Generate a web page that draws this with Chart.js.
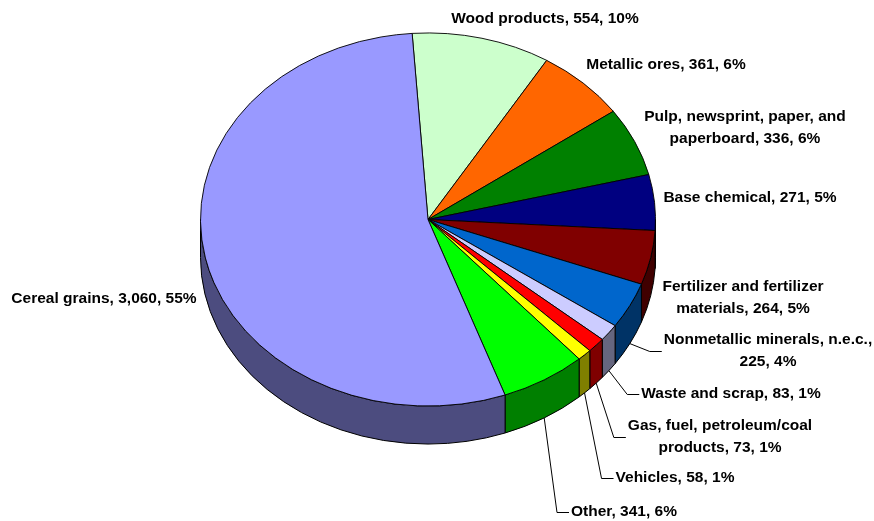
<!DOCTYPE html>
<html>
<head>
<meta charset="utf-8">
<script src="https://cdn.jsdelivr.net/npm/chart.js@4.4.1/dist/chart.umd.min.js"></script>
<style>
html, body { margin: 0; padding: 0; background: #fff; }
</style>
</head>
<body>
<canvas id="grafico_pizza" width="874" height="521"></canvas>
<script>
const categorias = ['Wood products', 'Metallic ores', 'Pulp, newsprint, paper, and paperboard', 'Base chemical',
    'Fertilizer and fertilizer materials', 'Nonmetallic minerals, n.e.c.', 'Waste and scrap',
    'Gas, fuel, petroleum/coal products', 'Vehicles', 'Other', 'Cereal grains']
const valores = [554, 361, 336, 271, 264, 225, 83, 73, 58, 341, 3060]
const percentuais = [10, 6, 6, 5, 5, 4, 1, 1, 1, 6, 55]
const cores = ['#CCFFCC', '#FF6600', '#008000', '#000080', '#800000', '#0066CC', '#CCCCFF',
    '#FF0000', '#FFFF00', '#00FF00', '#9999FF']

// posicao dos rotulos (centro do bloco de texto) e se tem linha guia
const rotuloX = [545, 666, 745, 750, 743, 768, 731, 720, 675, 624, 104]
const rotuloY = [19, 65, 128, 198, 298, 351, 394, 437, 478, 512, 299]
const comLinha = [false, false, false, false, false, true, true, true, true, true, false]

const achatamento = 0.82   // pizza "deitada"
const profundidade = 38
const fonte = 'bold 15.5px "Liberation Sans", Arial, sans-serif'

function escurecer(hex) {
    const n = parseInt(hex.slice(1), 16)
    const r = (n >> 16) >> 1, g = ((n >> 8) & 255) >> 1, b = (n & 255) >> 1
    return `rgb(${r},${g},${b})`
}

function quebrar(ctx, texto, max) {
    const palavras = texto.split(' ')
    const linhas = []
    let atual = ''
    palavras.forEach(p => {
        const teste = atual ? atual + ' ' + p : p
        if (ctx.measureText(teste).width > max && atual) {
            linhas.push(atual)
            atual = p
        } else {
            atual = teste
        }
    })
    linhas.push(atual)
    return linhas
}

const pizza3d = {
    id: 'pizza3d',
    beforeDatasetsDraw(chart) {
        const ctx = chart.ctx
        const arcs = chart.getDatasetMeta(0).data
        const cx = arcs[0].x, cy = arcs[0].y
        ctx.save()
        // lateral (so a metade da frente aparece)
        arcs.forEach((arc, i) => {
            const r = arc.outerRadius
            for (let n = -1; n <= 2; n++) {
                const a = Math.max(arc.startAngle, 2 * Math.PI * n)
                const b = Math.min(arc.endAngle, 2 * Math.PI * n + Math.PI)
                if (a >= b) continue
                ctx.beginPath()
                ctx.ellipse(cx, cy, r, r * achatamento, 0, a, b, false)
                ctx.ellipse(cx, cy + profundidade, r, r * achatamento, 0, b, a, true)
                ctx.closePath()
                ctx.fillStyle = escurecer(cores[i])
                ctx.fill()
                ctx.lineWidth = 1
                ctx.strokeStyle = '#000'
                ctx.stroke()
            }
        })
        ctx.translate(cx, cy)
        ctx.scale(1, achatamento)
        ctx.translate(-cx, -cy)
    },
    afterDatasetsDraw(chart) {
        const ctx = chart.ctx
        ctx.restore()
        const arcs = chart.getDatasetMeta(0).data
        ctx.save()
        ctx.font = fonte
        ctx.fillStyle = '#000'
        ctx.textAlign = 'center'
        ctx.textBaseline = 'middle'
        categorias.forEach((cat, i) => {
            const texto = `${cat}, ${valores[i].toLocaleString('en-US')}, ${percentuais[i]}%`
            const linhas = quebrar(ctx, texto, 220)
            const alt = 22
            const largura = Math.max(...linhas.map(l => ctx.measureText(l).width))
            linhas.forEach((l, j) => {
                ctx.fillText(l, rotuloX[i], rotuloY[i] + (j - (linhas.length - 1) / 2) * alt)
            })
            if (comLinha[i]) {
                const arc = arcs[i]
                const m = (arc.startAngle + arc.endAngle) / 2
                const r = arc.outerRadius
                const sx = arc.x + r * Math.cos(m)
                const sy = arc.y + r * achatamento * Math.sin(m) + profundidade
                const esq = rotuloX[i] - largura / 2
                ctx.beginPath()
                ctx.moveTo(sx, sy)
                ctx.lineTo(esq - 14, rotuloY[i] + 0.5)
                ctx.lineTo(esq - 2, rotuloY[i] + 0.5)
                ctx.lineWidth = 1
                ctx.strokeStyle = '#000'
                ctx.stroke()
            }
        })
        ctx.restore()
    }
}

const data = {
    labels: categorias,
    datasets: [
        {
            data: valores,
            backgroundColor: cores,
            borderColor: '#000',
            borderWidth: 1,
            radius: 227.5,
            clip: false
        }
    ]
}

const config = {
    type: 'pie',
    data: data,
    options: {
        responsive: false,
        animation: false,
        events: [],
        rotation: -4,
        layout: { padding: { left: 200, right: 218, top: 0, bottom: 82 } },
        plugins: {
            legend: { display: false },
            tooltip: { enabled: false }
        }
    },
    plugins: [pizza3d]
}

const grafico = new Chart(
    document.querySelector('#grafico_pizza'),
    config,
)
</script>
</body>
</html>
